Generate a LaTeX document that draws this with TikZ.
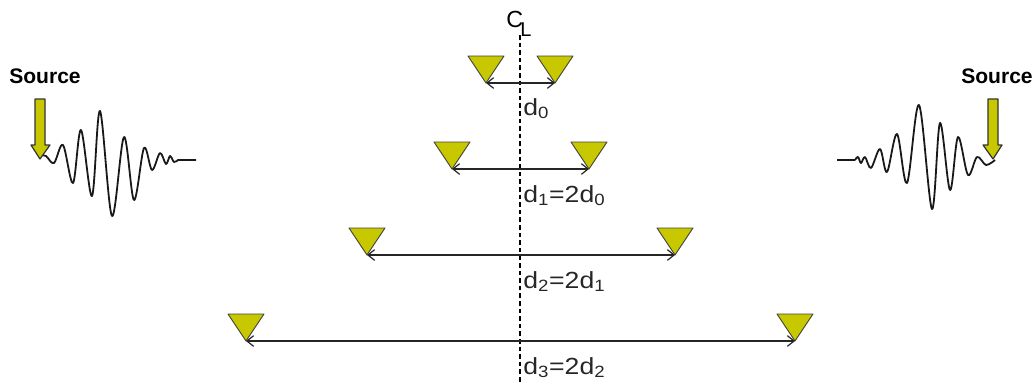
\documentclass[tikz,border=0pt]{standalone}
\usepackage{fontspec}
\usetikzlibrary{arrows.meta}
\setmainfont{Liberation Sans}
\definecolor{olv}{RGB}{200,200,0}
\newcommand{\wtxt}[1]{\scalebox{1.14}[1]{#1}}
\begin{document}
\begin{tikzpicture}[x=0.75pt,y=-0.75pt,
  sensor/.style={draw=black!75,fill=olv,line width=0.7pt,line join=round},
  yarrow/.style={draw=black!80,fill=olv,line width=0.9pt,line join=round},
  wave/.style={draw=black!90,line width=1.35pt,line join=round},
  span/.style={draw=black!85,line width=0.9pt,{Straight Barb[length=5pt,width=8pt]}-{Straight Barb[length=5pt,width=8pt]}},
  lbl/.style={anchor=base west,inner sep=0pt,font=\fontsize{17.5}{18}\selectfont,text=black!85},
  srclbl/.style={anchor=base west,inner sep=0pt,font=\fontsize{15.8}{17}\selectfont\bfseries}]
\useasboundingbox (0,0) rectangle (1034,383);
% centre line
\coordinate (cltop) at (520,35);
\coordinate (clbot) at (520,383);
\draw[black,line width=0.8pt,dash pattern=on 3.5pt off 2.2pt] (cltop) -- (clbot);
\node[anchor=base west,inner sep=0pt,font=\fontsize{17.5}{18}\selectfont] (clc) at (506,27) {C};
\node[anchor=base west,inner sep=0pt,font=\fontsize{15}{18}\selectfont] (cll) at (520,36) {L};
% sensors
\foreach \n/\a/\t in {a0/486/56,b0/555/56,a1/452/142,b1/589/142,a2/367/228,b2/675/228,a3/246/314,b3/795/314}{
  \coordinate (\n) at (\a,\t+27);
  \draw[sensor] (\a-18,\t) -- (\a+18,\t) -- (\n) -- cycle;
}
% spans
\draw[span] (a0) -- (b0);
\draw[span] (a1) -- (b1);
\draw[span] (a2) -- (b2);
\draw[span] (a3) -- (b3);
% labels
\node[lbl] (d0) at (523,115) {\wtxt{d\textsubscript{0}}};
\node[lbl] (d1) at (523,202) {\wtxt{d\textsubscript{1}=2d\textsubscript{0}}};
\node[lbl] (d2) at (523,288) {\wtxt{d\textsubscript{2}=2d\textsubscript{1}}};
\node[lbl] (d3) at (523,374) {\wtxt{d\textsubscript{3}=2d\textsubscript{2}}};
% sources
\node[srclbl] (s1) at (9,83) {Source};
\node[srclbl] (s2) at (961,83) {Source};
% left wave
\draw[wave] plot[smooth,tension=0.55] coordinates {(40,155) (46,156) (54,163) (63,145) (73,183) (81,130) (92,196) (100,111) (112,216) (124,137) (134,200) (144,148) (152,170) (160,153) (166,164) (170,156) (174,162) (178,160)} -- (196,160);
% right wave
\draw[wave] (837,160) -- (855,160) plot[smooth,tension=0.55] coordinates {(855,160) (858,157) (861,163) (865,157) (871,168) (880,149) (887,172) (897,134) (907,183) (919,105) (932,209) (940,123) (950,190) (958,137) (968,175) (977,157) (986,165) (995,160)};
% arrows
\draw[yarrow] (35,99) -- (45,99) -- (45,145) -- (50,145) -- (40,159) -- (31,145) -- (35,145) -- cycle;
\draw[yarrow] (988,99) -- (998,99) -- (998,145) -- (1002,145) -- (993,159) -- (983,145) -- (988,145) -- cycle;
\end{tikzpicture}
\end{document}
